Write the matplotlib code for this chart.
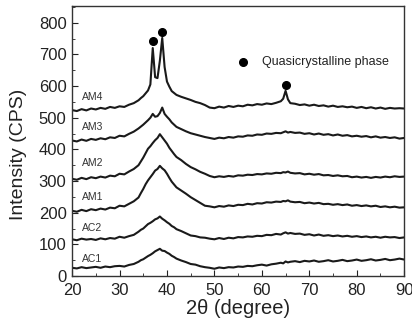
import numpy as np
import matplotlib
matplotlib.use("Agg")
import matplotlib.pyplot as plt
from matplotlib.ticker import MultipleLocator

plt.rcParams['font.family'] = ['Liberation Sans', 'DejaVu Sans']

# 2theta grid: 1 deg steps, 0.5 deg around the main peak and the 65 deg peak
theta = np.concatenate([np.arange(20, 35, 1.0), np.arange(34.5, 42.5, 0.5),
                        np.arange(43, 65, 1.0), [64.5, 65, 65.5],
                        np.arange(66, 91, 1.0)])

ac1 = [26, 24, 28, 25, 27, 29, 26, 30, 28, 31, 32, 30, 35, 38, 45,
       50, 53, 58, 63, 67, 72, 78, 82, 86, 80, 79, 74, 70, 64, 60, 55,
       49, 44, 38, 36, 31, 28, 26, 23, 27, 25, 28, 27, 30, 29, 32, 31, 34, 36, 33, 37, 39, 42,
       40, 46, 43,
       45, 47, 44, 48, 46, 49, 45, 47, 50, 46, 48, 51, 47, 49, 52, 48, 50, 53, 49, 51, 54, 50, 52, 55, 52]
ac2 = [116, 113, 118, 115, 117, 114, 119, 116, 120, 118, 124, 121, 126, 130, 140,
       146, 150, 157, 164, 168, 173, 179, 182, 188, 181, 176, 170, 165, 158, 154, 148,
       142, 135, 128, 126, 122, 121, 118, 116, 120, 117, 121, 119, 123, 122, 125, 124, 127, 126, 130, 129, 133, 131,
       135, 138, 134,
       136, 133, 134, 130, 132, 128, 131, 127, 129, 126, 128, 125, 127, 124, 126, 123, 125, 122, 124, 121, 124, 122, 123, 120, 122]
am1 = [206, 203, 209, 205, 211, 208, 213, 210, 216, 214, 222, 220, 228, 236, 248,
       262, 275, 290, 302, 312, 322, 333, 338, 348, 340, 334, 323, 310, 298, 289, 280,
       270, 260, 249, 240, 231, 222, 220, 217, 221, 219, 223, 221, 225, 224, 228, 226, 230, 229, 233, 232, 235, 234,
       237, 236, 239,
       235, 233, 234, 230, 232, 229, 231, 227, 228, 225, 227, 224, 226, 222, 224, 221, 223, 220, 222, 218, 220, 217, 219, 216, 217]
am2 = [307, 304, 310, 306, 312, 309, 314, 311, 317, 315, 323, 321, 330, 338, 350,
       362, 374, 388, 402, 410, 420, 429, 436, 448, 438, 428, 418, 405, 395, 385, 376,
       366, 354, 344, 337, 329, 323, 316, 312, 315, 313, 316, 314, 318, 317, 320, 319, 322, 321, 324, 323, 326, 325,
       328, 327, 330,
       326, 324, 325, 321, 323, 320, 322, 318, 319, 316, 318, 315, 316, 312, 314, 311, 313, 310, 313, 311, 314, 312, 315, 313, 314]
am3 = [428, 425, 431, 427, 433, 430, 435, 432, 438, 436, 443, 441, 449, 456, 466,
       472, 478, 485, 492, 500, 512, 503, 505, 515, 532, 512, 503, 495, 485, 478, 471,
       464, 457, 451, 447, 443, 439, 436, 433, 437, 435, 439, 437, 441, 440, 444, 443, 447, 446, 450, 449, 452, 451,
       454, 457, 453,
       455, 452, 453, 449, 451, 447, 450, 446, 448, 444, 447, 443, 445, 441, 443, 440, 442, 438, 441, 437, 439, 436, 438, 434, 436]
am4 = [524, 521, 527, 523, 529, 526, 531, 528, 534, 531, 536, 534, 541, 546, 555,
       562, 568, 577, 586, 605, 720, 628, 625, 680, 752, 660, 614, 598, 584, 578, 572,
       566, 561, 556, 550, 546, 540, 532, 530, 535, 532, 537, 534, 538, 536, 541, 539, 543, 541, 545, 543, 547, 552,
       560, 585, 558,
       546, 544, 540, 542, 538, 541, 537, 539, 535, 538, 534, 536, 533, 535, 531, 534, 530, 533, 529, 532, 528, 531, 529, 530, 529]

series = [ac1, ac2, am1, am2, am3, am4]
names = ["AC1", "AC2", "AM1", "AM2", "AM3", "AM4"]
label_y = [55, 153, 249, 358, 471, 566]

# quasicrystalline peak markers
qc_x = [37.0, 39.0, 65.1]
qc_y = [741, 772, 603]

fig = plt.figure(figsize=(4.12, 3.29), dpi=100)
ax = fig.add_axes([0.175, 0.161, 0.806, 0.821])

for s in series:
    ax.plot(theta, s, color='#1a1a1a', lw=1.5)

for n, ly in zip(names, label_y):
    ax.text(22.1, ly, n, fontsize=7.5, color='#333333', va='center', ha='left')

ax.plot(qc_x, qc_y, 'o', color='black', ms=5.5, ls='none')
ax.plot([56.1], [677], 'o', color='black', ms=5.5)
ax.text(60.1, 677, "Quasicrystalline phase", fontsize=9, color='#222222', va='center', ha='left')

ax.set_xlim(20, 90)
ax.set_ylim(0, 853)
ax.xaxis.set_major_locator(MultipleLocator(10))
ax.xaxis.set_minor_locator(MultipleLocator(5))
ax.yaxis.set_major_locator(MultipleLocator(100))
ax.yaxis.set_minor_locator(MultipleLocator(50))
ax.tick_params(which='both', direction='in', labelsize=12, colors='#222222')
ax.tick_params(axis='x', which='major', pad=5)
ax.tick_params(axis='y', which='major', pad=4)
ax.tick_params(which='major', length=4)
ax.tick_params(which='minor', length=2)
for sp in ax.spines.values():
    sp.set_linewidth(1.0)
    sp.set_color('#333333')

ax.set_xlabel("2\u03b8 (degree)", fontsize=14.5, labelpad=1, color='#222222')
ax.set_ylabel("Intensity (CPS)", fontsize=14, color='#222222')
ax.yaxis.set_label_coords(-0.135, 0.45)

fig.savefig("out.png", dpi=100)
